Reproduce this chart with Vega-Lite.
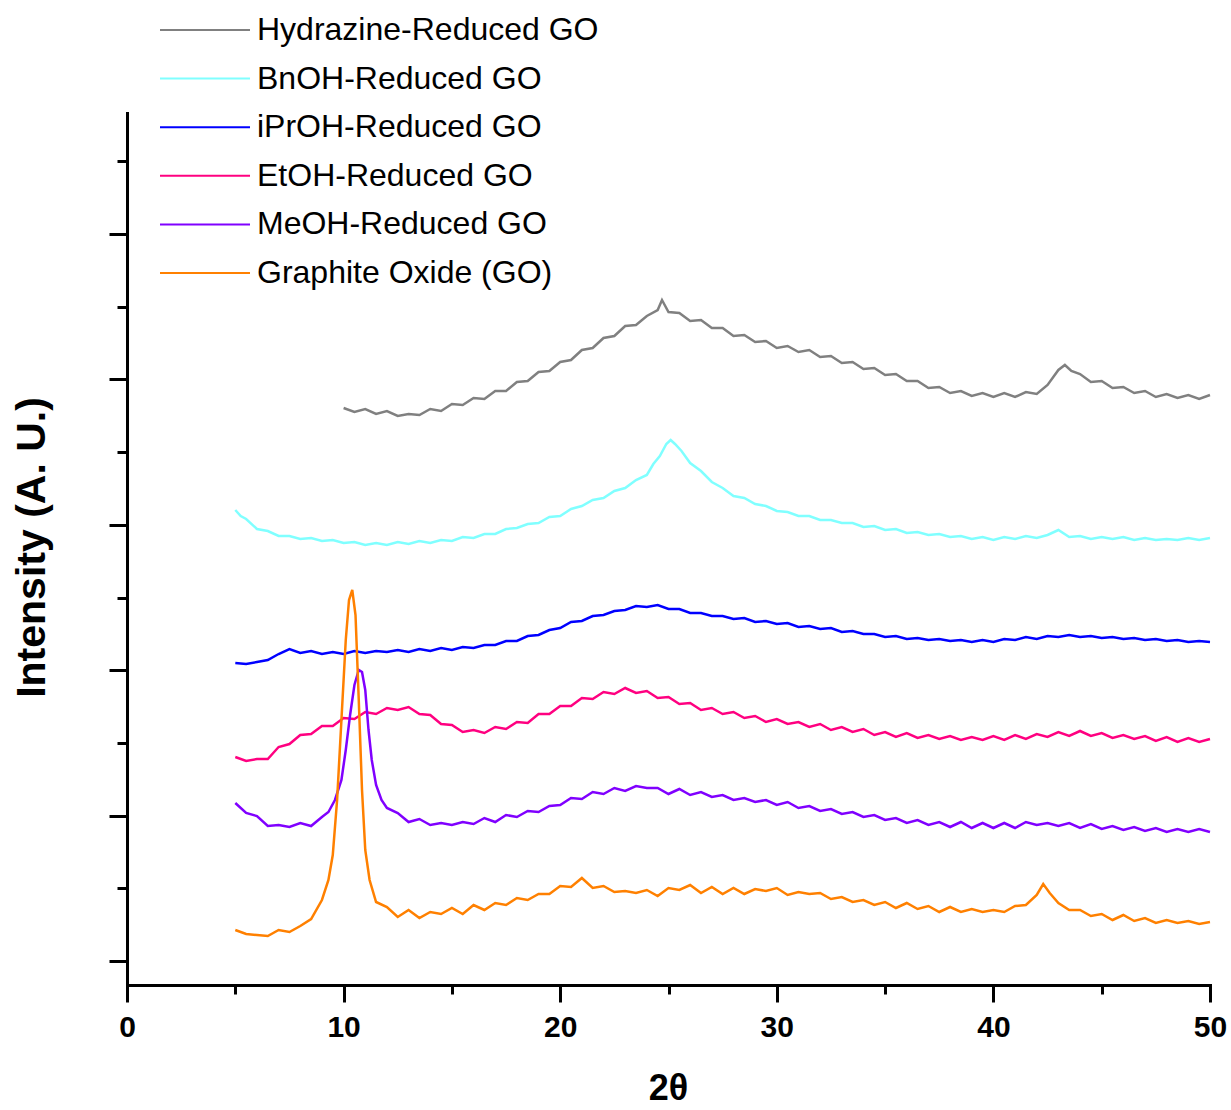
{
  "$schema": "https://vega.github.io/schema/vega-lite/v6.json",
  "autosize": {"type": "none"},
  "padding": {"left": 127, "top": 113, "right": 21, "bottom": 125},
  "width": 1083,
  "height": 872,
  "background": "white",
  "config": {
    "view": {"stroke": null},
    "axis": {"grid": false, "domainColor": "black", "tickColor": "black", "domainWidth": 3, "tickWidth": 3, "labelColor": "black", "titleColor": "black", "domainCap": "square"}
  },
  "datasets": {
    "hyd": [{"x":10.0,"y":577},{"x":10.5,"y":573},{"x":11.0,"y":576},{"x":11.5,"y":571},{"x":12.0,"y":574},{"x":12.5,"y":569},{"x":13.0,"y":571},{"x":13.5,"y":570},{"x":14.0,"y":576},{"x":14.5,"y":574},{"x":15.0,"y":581},{"x":15.5,"y":580},{"x":16.0,"y":587},{"x":16.5,"y":586},{"x":17.0,"y":594},{"x":17.5,"y":594},{"x":18.0,"y":603},{"x":18.5,"y":604},{"x":19.0,"y":613},{"x":19.5,"y":614},{"x":20.0,"y":623},{"x":20.5,"y":625},{"x":21.0,"y":635},{"x":21.5,"y":637},{"x":22.0,"y":647},{"x":22.5,"y":649},{"x":23.0,"y":659},{"x":23.5,"y":660},{"x":24.0,"y":669},{"x":24.5,"y":675},{"x":24.7,"y":685},{"x":25.0,"y":673},{"x":25.5,"y":672},{"x":26.0,"y":664},{"x":26.5,"y":665},{"x":27.0,"y":657},{"x":27.5,"y":657},{"x":28.0,"y":649},{"x":28.5,"y":650},{"x":29.0,"y":643},{"x":29.5,"y":644},{"x":30.0,"y":637},{"x":30.5,"y":639},{"x":31.0,"y":633},{"x":31.5,"y":635},{"x":32.0,"y":628},{"x":32.5,"y":629},{"x":33.0,"y":622},{"x":33.5,"y":623},{"x":34.0,"y":616},{"x":34.5,"y":617},{"x":35.0,"y":610},{"x":35.5,"y":611},{"x":36.0,"y":604},{"x":36.5,"y":604},{"x":37.0,"y":597},{"x":37.5,"y":598},{"x":38.0,"y":592},{"x":38.5,"y":594},{"x":39.0,"y":589},{"x":39.5,"y":592},{"x":40.0,"y":588},{"x":40.5,"y":592},{"x":41.0,"y":588},{"x":41.5,"y":593},{"x":42.0,"y":591},{"x":42.5,"y":600},{"x":43.0,"y":615},{"x":43.3,"y":620},{"x":43.6,"y":614},{"x":44.0,"y":611},{"x":44.5,"y":603},{"x":45.0,"y":604},{"x":45.5,"y":597},{"x":46.0,"y":598},{"x":46.5,"y":592},{"x":47.0,"y":594},{"x":47.5,"y":588},{"x":48.0,"y":591},{"x":48.5,"y":587},{"x":49.0,"y":590},{"x":49.5,"y":586},{"x":50.0,"y":590}],
    "bn": [{"x":5.0,"y":475},{"x":5.25,"y":469},{"x":5.5,"y":466},{"x":6.0,"y":456},{"x":6.5,"y":454},{"x":7.0,"y":449},{"x":7.5,"y":449},{"x":8.0,"y":446},{"x":8.5,"y":447},{"x":9.0,"y":444},{"x":9.5,"y":445},{"x":10.0,"y":442},{"x":10.5,"y":443},{"x":11.0,"y":440},{"x":11.5,"y":442},{"x":12.0,"y":440},{"x":12.5,"y":443},{"x":13.0,"y":441},{"x":13.5,"y":444},{"x":14.0,"y":442},{"x":14.5,"y":445},{"x":15.0,"y":444},{"x":15.5,"y":448},{"x":16.0,"y":447},{"x":16.5,"y":451},{"x":17.0,"y":451},{"x":17.5,"y":456},{"x":18.0,"y":457},{"x":18.5,"y":461},{"x":19.0,"y":462},{"x":19.5,"y":468},{"x":20.0,"y":469},{"x":20.5,"y":476},{"x":21.0,"y":479},{"x":21.5,"y":485},{"x":22.0,"y":487},{"x":22.5,"y":494},{"x":23.0,"y":497},{"x":23.5,"y":505},{"x":24.0,"y":510},{"x":24.3,"y":521},{"x":24.6,"y":529},{"x":24.9,"y":541},{"x":25.1,"y":545},{"x":25.3,"y":541},{"x":25.6,"y":534},{"x":26.0,"y":522},{"x":26.5,"y":514},{"x":27.0,"y":503},{"x":27.5,"y":497},{"x":28.0,"y":489},{"x":28.5,"y":487},{"x":29.0,"y":481},{"x":29.5,"y":479},{"x":30.0,"y":474},{"x":30.5,"y":473},{"x":31.0,"y":469},{"x":31.5,"y":469},{"x":32.0,"y":465},{"x":32.5,"y":465},{"x":33.0,"y":462},{"x":33.5,"y":462},{"x":34.0,"y":458},{"x":34.5,"y":459},{"x":35.0,"y":455},{"x":35.5,"y":456},{"x":36.0,"y":452},{"x":36.5,"y":453},{"x":37.0,"y":450},{"x":37.5,"y":451},{"x":38.0,"y":448},{"x":38.5,"y":449},{"x":39.0,"y":446},{"x":39.5,"y":448},{"x":40.0,"y":445},{"x":40.5,"y":448},{"x":41.0,"y":446},{"x":41.5,"y":449},{"x":42.0,"y":447},{"x":42.5,"y":450},{"x":43.0,"y":455},{"x":43.5,"y":448},{"x":44.0,"y":449},{"x":44.5,"y":446},{"x":45.0,"y":448},{"x":45.5,"y":446},{"x":46.0,"y":448},{"x":46.5,"y":445},{"x":47.0,"y":447},{"x":47.5,"y":445},{"x":48.0,"y":446},{"x":48.5,"y":445},{"x":49.0,"y":447},{"x":49.5,"y":445},{"x":50.0,"y":447}],
    "ipr": [{"x":5.0,"y":322},{"x":5.5,"y":321},{"x":6.0,"y":323},{"x":6.5,"y":325},{"x":7.0,"y":331},{"x":7.5,"y":336},{"x":8.0,"y":332},{"x":8.5,"y":334},{"x":9.0,"y":331},{"x":9.5,"y":333},{"x":10.0,"y":331},{"x":10.5,"y":334},{"x":11.0,"y":332},{"x":11.5,"y":334},{"x":12.0,"y":333},{"x":12.5,"y":335},{"x":13.0,"y":333},{"x":13.5,"y":336},{"x":14.0,"y":334},{"x":14.5,"y":337},{"x":15.0,"y":335},{"x":15.5,"y":338},{"x":16.0,"y":337},{"x":16.5,"y":340},{"x":17.0,"y":340},{"x":17.5,"y":344},{"x":18.0,"y":344},{"x":18.5,"y":349},{"x":19.0,"y":350},{"x":19.5,"y":355},{"x":20.0,"y":357},{"x":20.5,"y":363},{"x":21.0,"y":364},{"x":21.5,"y":369},{"x":22.0,"y":370},{"x":22.5,"y":374},{"x":23.0,"y":375},{"x":23.5,"y":379},{"x":24.0,"y":378},{"x":24.5,"y":380},{"x":25.0,"y":376},{"x":25.5,"y":376},{"x":26.0,"y":372},{"x":26.5,"y":372},{"x":27.0,"y":369},{"x":27.5,"y":369},{"x":28.0,"y":366},{"x":28.5,"y":367},{"x":29.0,"y":363},{"x":29.5,"y":364},{"x":30.0,"y":361},{"x":30.5,"y":362},{"x":31.0,"y":358},{"x":31.5,"y":359},{"x":32.0,"y":356},{"x":32.5,"y":357},{"x":33.0,"y":353},{"x":33.5,"y":354},{"x":34.0,"y":351},{"x":34.5,"y":351},{"x":35.0,"y":348},{"x":35.5,"y":349},{"x":36.0,"y":346},{"x":36.5,"y":347},{"x":37.0,"y":345},{"x":37.5,"y":346},{"x":38.0,"y":344},{"x":38.5,"y":345},{"x":39.0,"y":343},{"x":39.5,"y":345},{"x":40.0,"y":343},{"x":40.5,"y":346},{"x":41.0,"y":345},{"x":41.5,"y":348},{"x":42.0,"y":346},{"x":42.5,"y":349},{"x":43.0,"y":348},{"x":43.5,"y":350},{"x":44.0,"y":348},{"x":44.5,"y":349},{"x":45.0,"y":347},{"x":45.5,"y":348},{"x":46.0,"y":346},{"x":46.5,"y":347},{"x":47.0,"y":345},{"x":47.5,"y":346},{"x":48.0,"y":344},{"x":48.5,"y":345},{"x":49.0,"y":343},{"x":49.5,"y":344},{"x":50.0,"y":343}],
    "et": [{"x":5.0,"y":228},{"x":5.5,"y":224},{"x":6.0,"y":226},{"x":6.5,"y":226},{"x":7.0,"y":238},{"x":7.5,"y":241},{"x":8.0,"y":250},{"x":8.5,"y":251},{"x":9.0,"y":259},{"x":9.5,"y":259},{"x":10.0,"y":267},{"x":10.5,"y":266},{"x":11.0,"y":273},{"x":11.5,"y":271},{"x":12.0,"y":277},{"x":12.5,"y":275},{"x":13.0,"y":278},{"x":13.5,"y":271},{"x":14.0,"y":270},{"x":14.5,"y":261},{"x":15.0,"y":260},{"x":15.5,"y":253},{"x":16.0,"y":255},{"x":16.5,"y":252},{"x":17.0,"y":258},{"x":17.5,"y":256},{"x":18.0,"y":263},{"x":18.5,"y":262},{"x":19.0,"y":271},{"x":19.5,"y":271},{"x":20.0,"y":279},{"x":20.5,"y":279},{"x":21.0,"y":287},{"x":21.5,"y":286},{"x":22.0,"y":293},{"x":22.5,"y":291},{"x":23.0,"y":297},{"x":23.5,"y":292},{"x":24.0,"y":294},{"x":24.5,"y":287},{"x":25.0,"y":288},{"x":25.5,"y":281},{"x":26.0,"y":282},{"x":26.5,"y":275},{"x":27.0,"y":277},{"x":27.5,"y":271},{"x":28.0,"y":273},{"x":28.5,"y":267},{"x":29.0,"y":269},{"x":29.5,"y":263},{"x":30.0,"y":266},{"x":30.5,"y":261},{"x":31.0,"y":263},{"x":31.5,"y":258},{"x":32.0,"y":261},{"x":32.5,"y":255},{"x":33.0,"y":258},{"x":33.5,"y":253},{"x":34.0,"y":256},{"x":34.5,"y":250},{"x":35.0,"y":253},{"x":35.5,"y":248},{"x":36.0,"y":252},{"x":36.5,"y":247},{"x":37.0,"y":250},{"x":37.5,"y":246},{"x":38.0,"y":249},{"x":38.5,"y":245},{"x":39.0,"y":248},{"x":39.5,"y":245},{"x":40.0,"y":249},{"x":40.5,"y":245},{"x":41.0,"y":250},{"x":41.5,"y":246},{"x":42.0,"y":251},{"x":42.5,"y":248},{"x":43.0,"y":253},{"x":43.5,"y":249},{"x":44.0,"y":254},{"x":44.5,"y":249},{"x":45.0,"y":252},{"x":45.5,"y":247},{"x":46.0,"y":250},{"x":46.5,"y":246},{"x":47.0,"y":249},{"x":47.5,"y":244},{"x":48.0,"y":248},{"x":48.5,"y":243},{"x":49.0,"y":247},{"x":49.5,"y":243},{"x":50.0,"y":246}],
    "me": [{"x":5.0,"y":182},{"x":5.5,"y":172},{"x":6.0,"y":169},{"x":6.5,"y":159},{"x":7.0,"y":160},{"x":7.5,"y":158},{"x":8.0,"y":162},{"x":8.5,"y":159},{"x":9.0,"y":168},{"x":9.3,"y":173},{"x":9.6,"y":185},{"x":9.9,"y":205},{"x":10.1,"y":235},{"x":10.3,"y":270},{"x":10.5,"y":300},{"x":10.7,"y":315},{"x":10.85,"y":313},{"x":11.0,"y":295},{"x":11.15,"y":255},{"x":11.3,"y":225},{"x":11.5,"y":200},{"x":11.75,"y":185},{"x":12.0,"y":177},{"x":12.5,"y":172},{"x":13.0,"y":163},{"x":13.5,"y":166},{"x":14.0,"y":160},{"x":14.5,"y":162},{"x":15.0,"y":160},{"x":15.5,"y":163},{"x":16.0,"y":161},{"x":16.5,"y":167},{"x":17.0,"y":163},{"x":17.5,"y":170},{"x":18.0,"y":168},{"x":18.5,"y":174},{"x":19.0,"y":173},{"x":19.5,"y":179},{"x":20.0,"y":180},{"x":20.5,"y":187},{"x":21.0,"y":186},{"x":21.5,"y":193},{"x":22.0,"y":191},{"x":22.5,"y":197},{"x":23.0,"y":194},{"x":23.5,"y":199},{"x":24.0,"y":197},{"x":24.5,"y":197},{"x":25.0,"y":191},{"x":25.5,"y":196},{"x":26.0,"y":190},{"x":26.5,"y":193},{"x":27.0,"y":188},{"x":27.5,"y":190},{"x":28.0,"y":185},{"x":28.5,"y":187},{"x":29.0,"y":183},{"x":29.5,"y":185},{"x":30.0,"y":180},{"x":30.5,"y":183},{"x":31.0,"y":177},{"x":31.5,"y":179},{"x":32.0,"y":174},{"x":32.5,"y":176},{"x":33.0,"y":171},{"x":33.5,"y":173},{"x":34.0,"y":168},{"x":34.5,"y":170},{"x":35.0,"y":165},{"x":35.5,"y":167},{"x":36.0,"y":162},{"x":36.5,"y":165},{"x":37.0,"y":160},{"x":37.5,"y":163},{"x":38.0,"y":158},{"x":38.5,"y":163},{"x":39.0,"y":157},{"x":39.5,"y":162},{"x":40.0,"y":157},{"x":40.5,"y":162},{"x":41.0,"y":157},{"x":41.5,"y":163},{"x":42.0,"y":160},{"x":42.5,"y":162},{"x":43.0,"y":159},{"x":43.5,"y":162},{"x":44.0,"y":157},{"x":44.5,"y":161},{"x":45.0,"y":156},{"x":45.5,"y":159},{"x":46.0,"y":155},{"x":46.5,"y":158},{"x":47.0,"y":154},{"x":47.5,"y":157},{"x":48.0,"y":153},{"x":48.5,"y":156},{"x":49.0,"y":153},{"x":49.5,"y":156},{"x":50.0,"y":153}],
    "go": [{"x":5.0,"y":55},{"x":5.5,"y":51},{"x":6.0,"y":50},{"x":6.5,"y":49},{"x":7.0,"y":55},{"x":7.5,"y":53},{"x":8.0,"y":59},{"x":8.5,"y":66},{"x":9.0,"y":85},{"x":9.3,"y":105},{"x":9.5,"y":130},{"x":9.7,"y":185},{"x":9.9,"y":265},{"x":10.1,"y":345},{"x":10.25,"y":385},{"x":10.4,"y":395},{"x":10.55,"y":370},{"x":10.7,"y":285},{"x":10.85,"y":195},{"x":11.0,"y":135},{"x":11.2,"y":105},{"x":11.5,"y":83},{"x":12.0,"y":78},{"x":12.5,"y":68},{"x":13.0,"y":75},{"x":13.5,"y":67},{"x":14.0,"y":73},{"x":14.5,"y":71},{"x":15.0,"y":77},{"x":15.5,"y":71},{"x":16.0,"y":80},{"x":16.5,"y":75},{"x":17.0,"y":82},{"x":17.5,"y":80},{"x":18.0,"y":87},{"x":18.5,"y":85},{"x":19.0,"y":91},{"x":19.5,"y":91},{"x":20.0,"y":99},{"x":20.5,"y":98},{"x":21.0,"y":107},{"x":21.5,"y":97},{"x":22.0,"y":99},{"x":22.5,"y":93},{"x":23.0,"y":94},{"x":23.5,"y":92},{"x":24.0,"y":95},{"x":24.5,"y":89},{"x":25.0,"y":97},{"x":25.5,"y":95},{"x":26.0,"y":100},{"x":26.5,"y":92},{"x":27.0,"y":98},{"x":27.5,"y":91},{"x":28.0,"y":97},{"x":28.5,"y":91},{"x":29.0,"y":96},{"x":29.5,"y":94},{"x":30.0,"y":97},{"x":30.5,"y":90},{"x":31.0,"y":93},{"x":31.5,"y":91},{"x":32.0,"y":92},{"x":32.5,"y":86},{"x":33.0,"y":88},{"x":33.5,"y":83},{"x":34.0,"y":85},{"x":34.5,"y":80},{"x":35.0,"y":83},{"x":35.5,"y":77},{"x":36.0,"y":82},{"x":36.5,"y":76},{"x":37.0,"y":79},{"x":37.5,"y":73},{"x":38.0,"y":78},{"x":38.5,"y":73},{"x":39.0,"y":76},{"x":39.5,"y":73},{"x":40.0,"y":75},{"x":40.5,"y":73},{"x":41.0,"y":79},{"x":41.5,"y":80},{"x":42.0,"y":90},{"x":42.3,"y":101},{"x":42.6,"y":92},{"x":43.0,"y":82},{"x":43.5,"y":75},{"x":44.0,"y":75},{"x":44.5,"y":69},{"x":45.0,"y":71},{"x":45.5,"y":65},{"x":46.0,"y":70},{"x":46.5,"y":64},{"x":47.0,"y":67},{"x":47.5,"y":62},{"x":48.0,"y":65},{"x":48.5,"y":62},{"x":49.0,"y":64},{"x":49.5,"y":61},{"x":50.0,"y":63}]
  },
  "encoding": {
    "x": {
      "field": "x", "type": "quantitative",
      "scale": {"domain": [0, 50], "nice": false, "zero": false},
      "axis": {
        "values": [0, 5, 10, 15, 20, 25, 30, 35, 40, 45, 50],
        "labelExpr": "datum.value % 10 === 0 ? datum.label : ''",
        "tickSize": {"condition": {"test": "datum.value % 10 === 0", "value": 17}, "value": 9},
        "labelFont": "Liberation Sans", "labelFontWeight": "bold", "labelFontSize": 30,
        "labelPadding": 10, "labelFlush": false, "labelOverlap": false,
        "title": "2θ", "titleFont": "Liberation Sans", "titleFontWeight": "bold", "titleFontSize": 36,
        "titleX": 541, "titleY": 114, "titleAlign": "center", "titleBaseline": "alphabetic"
      }
    },
    "y": {
      "field": "y", "type": "quantitative",
      "scale": {"domain": [0, 872], "nice": false, "zero": false},
      "axis": {
        "values": [24, 96.7, 169.4, 242.1, 314.8, 387.5, 460.2, 532.9, 605.6, 678.3, 751, 823.7],
        "labels": false,
        "tickSize": {"condition": {"test": "indexof([24, 169.4, 314.8, 460.2, 605.6, 751], datum.value) >= 0", "value": 18}, "value": 10},
        "title": "Intensity (A. U.)", "titleFont": "Liberation Sans", "titleFontWeight": "bold", "titleFontSize": 41,
        "titleAngle": 270, "titleX": -83, "titleY": 434, "titleAlign": "center", "titleBaseline": "alphabetic"
      }
    },
    "color": {
      "type": "nominal",
      "scale": {
        "domain": ["Hydrazine-Reduced GO", "BnOH-Reduced GO", "iPrOH-Reduced GO", "EtOH-Reduced GO", "MeOH-Reduced GO", "Graphite Oxide (GO)"],
        "range": ["#808080", "#80FFFF", "#0000FF", "#FF0080", "#8000FF", "#FF8000"]
      },
      "legend": {
        "title": null, "orient": "none", "legendX": 33, "legendY": -99, "padding": 0,
        "symbolType": "M-5,0H5", "symbolSize": 324, "symbolStrokeWidth": 2, "symbolOffset": 29,
        "labelOffset": 36, "labelFont": "Liberation Sans", "labelFontSize": 32, "labelColor": "black",
        "rowPadding": 16.6, "labelLimit": 500
      }
    }
  },
  "layer": [
    {"data": {"name": "hyd"}, "mark": {"type": "line", "strokeWidth": 2.5}, "encoding": {"color": {"datum": "Hydrazine-Reduced GO"}}},
    {"data": {"name": "bn"}, "mark": {"type": "line", "strokeWidth": 2.5}, "encoding": {"color": {"datum": "BnOH-Reduced GO"}}},
    {"data": {"name": "ipr"}, "mark": {"type": "line", "strokeWidth": 2.5}, "encoding": {"color": {"datum": "iPrOH-Reduced GO"}}},
    {"data": {"name": "et"}, "mark": {"type": "line", "strokeWidth": 2.5}, "encoding": {"color": {"datum": "EtOH-Reduced GO"}}},
    {"data": {"name": "me"}, "mark": {"type": "line", "strokeWidth": 2.5}, "encoding": {"color": {"datum": "MeOH-Reduced GO"}}},
    {"data": {"name": "go"}, "mark": {"type": "line", "strokeWidth": 2.5}, "encoding": {"color": {"datum": "Graphite Oxide (GO)"}}}
  ]
}
